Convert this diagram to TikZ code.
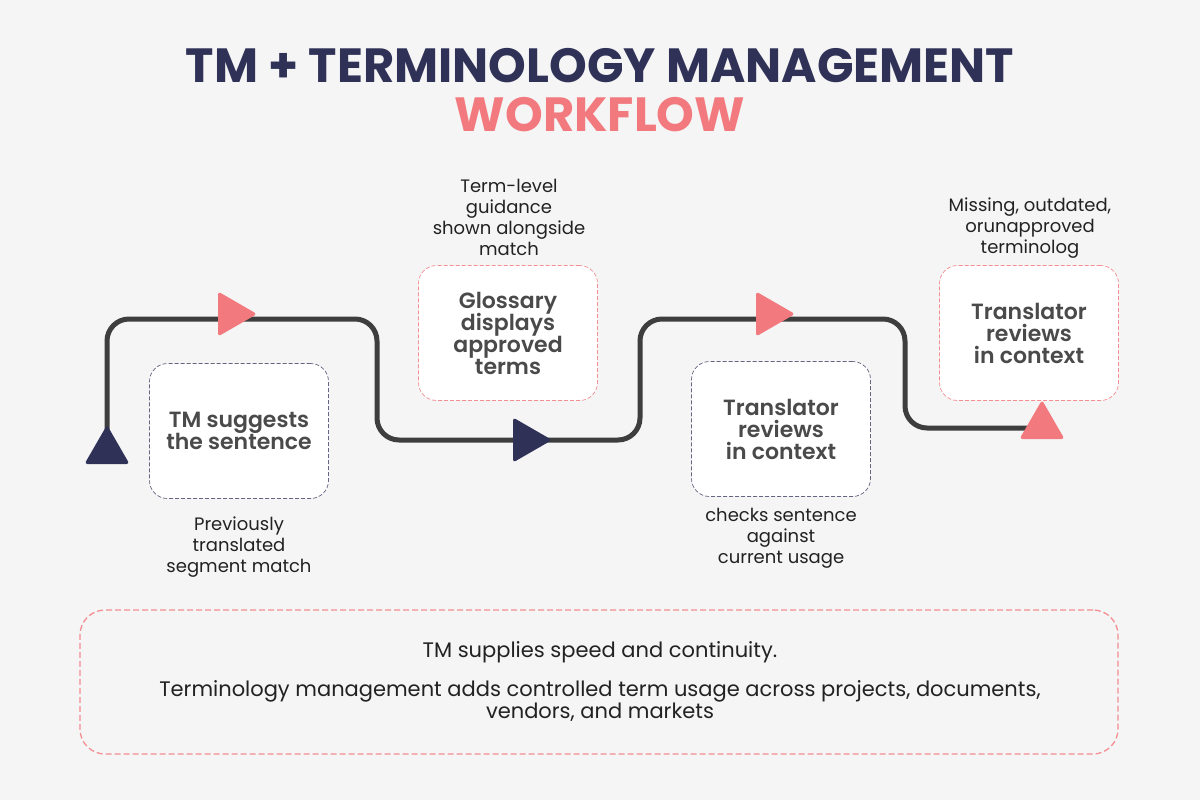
\documentclass[tikz,border=0pt]{standalone}
\usepackage{fontspec}
\setmainfont{Poppins}
\newfontfamily\semibold{Poppins SemiBold}
\usetikzlibrary{shapes.geometric,positioning}

\definecolor{navy}{HTML}{2F3157}
\definecolor{rose}{HTML}{F27A7F}
\definecolor{track}{HTML}{3E3E3E}
\definecolor{boxtext}{HTML}{4A4A4A}
\definecolor{notetext}{HTML}{222222}
\definecolor{paper}{HTML}{F5F5F5}

\tikzset{
  stepbox/.style={draw, rounded corners=18pt, fill=white, minimum width=179pt,
    minimum height=135pt, align=center, line width=0.7pt,
    dash pattern=on 4pt off 2pt, text=boxtext,
    font={\fontsize{22}{22}\selectfont\semibold\lineskiplimit=-20pt\relax}},
  navybox/.style={stepbox, draw=navy!75},
  rosebox/.style={stepbox, draw=rose!85},
  note/.style={align=center, text=notetext, font=\fontsize{18}{21}\selectfont},
  marker/.style={regular polygon, regular polygon sides=3, minimum size=52pt,
    inner sep=0pt, rounded corners=3pt},
  flow/.style={track, line width=5pt, rounded corners=22pt},
}

\begin{document}
\begin{tikzpicture}[x=1pt, y=-1pt]
	
	% Page
	\fill[paper] (0,0) rectangle (1200,800);
	\useasboundingbox (0,0) rectangle (1200,800);
	
	% Title
	\node[text=navy, font=\fontsize{48}{52}\selectfont\bfseries] (title) at (600,66) {TM + TERMINOLOGY MANAGEMENT};
	\node[text=rose, font=\fontsize{48}{52}\selectfont\bfseries] (subtitle) at (600,115) {WORKFLOW};
	
	% Track
	\coordinate (s) at (107,445);
	\coordinate (c1) at (107,319);
	\coordinate (c2) at (377,319);
	\coordinate (c3) at (377,440);
	\coordinate (c4) at (640,440);
	\coordinate (c5) at (640,319);
	\coordinate (c6) at (905,319);
	\coordinate (c7) at (905,428);
	\coordinate (e) at (1035,428);
	\draw[flow] (s) -- (c1) -- (c2) -- (c3) -- (c4) -- (c5) -- (c6) -- (c7) -- (e);
	
	% Markers
	\node[marker, fill=navy] (m1) at (107,451) {};
	\node[marker, fill=rose, shape border rotate=-90] (m2) at (231,314) {};
	\node[marker, fill=navy, shape border rotate=-90] (m3) at (526,440) {};
	\node[marker, fill=rose, shape border rotate=-90] (m4) at (769,314) {};
	\node[marker, fill=rose] (m5) at (1042,426) {};
	
	% Steps
	\node[navybox] (tm) at (239,431) {TM suggests\\the sentence};
	\node[rosebox] (glossary) at (508,333) {Glossary\\displays\\approved\\terms};
	\node[navybox] (review) at (781,429) {Translator\\reviews\\in context};
	\node[rosebox] (check) at (1029,333) {Translator\\reviews\\in context};
	
	% Notes
	\node[note] (tmnote) at (239,547) {Previously\\translated\\segment match};
	\node[note] (glossarynote) at (509,217) {Term-level\\guidance\\shown alongside\\match};
	\node[note] (reviewnote) at (781,538) {checks sentence\\against\\current usage};
	\node[note] (checknote) at (1030,228) {Missing, outdated,\\orunapproved\\terminolog};
	
	% Summary
	\node[draw=rose!85, line width=1.3pt, dash pattern=on 6pt off 3pt, rounded corners=25pt,
	  minimum width=1038pt, minimum height=144pt] (summary) at (599,682) {};
	\node[note, font=\fontsize{21}{23}\selectfont] (line1) at (600,652) {TM supplies speed and continuity.};
	\node[note, font=\fontsize{21}{22}\selectfont] (line2) at (600,701) {Terminology management adds controlled term usage across projects, documents,\\vendors, and markets};
	
\end{tikzpicture}
\end{document}
